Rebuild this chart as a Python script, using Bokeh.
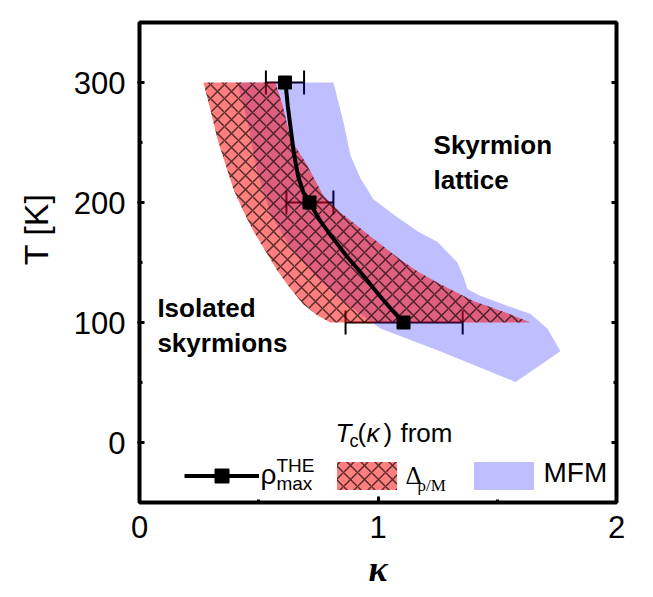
from bokeh.plotting import figure
from bokeh.models import (Range1d, FixedTicker, LinearAxis, Label, Whisker, TeeHead,
                          ColumnDataSource, Legend, LegendItem)
from bokeh.embed import file_html
from bokeh.resources import INLINE

# ---------------- data ----------------
rho_T = [300, 200, 100]
rho_kappa = [0.61, 0.713, 1.107]
rho_err_lo = [0.53, 0.616, 0.864]
rho_err_hi = [0.69, 0.813, 1.355]

curve_kappa = [0.612, 0.622, 0.635, 0.648, 0.665, 0.688, 0.713, 0.76, 0.80, 0.87, 0.935, 1.00, 1.06, 1.107]
curve_T = [300, 280, 260, 240, 222, 208, 200, 184, 173, 155, 140, 124, 110, 100]

delta_kappa = [0.268, 0.30, 0.327, 0.36, 0.394, 0.435, 0.478, 0.53, 0.579, 0.63, 0.688, 0.745, 0.80,
               1.64, 1.54, 1.40, 1.26, 1.17, 1.09, 0.98, 0.84, 0.77, 0.70, 0.65, 0.633, 0.60, 0.57]
delta_T = [300, 275, 253, 232, 211, 193, 176, 159, 143, 129, 115, 106, 100,
           100, 108, 118, 132, 142, 153, 170, 192, 206, 232, 248, 254, 281, 300]

mfm_kappa = [0.41, 0.453, 0.494, 0.55, 0.633, 0.746, 0.872, 1.01, 1.26, 1.577,
             1.765, 1.71, 1.64, 1.43, 1.375, 1.36, 1.333, 1.25, 1.166, 1.065, 0.98, 0.927, 0.885, 0.855, 0.813]
mfm_T = [300, 267, 225, 190, 162, 137, 115, 95, 76, 50.5,
         76, 95, 107, 122, 128, 137, 150, 167, 176, 190, 203, 220, 239, 267, 300]

x_ticks = [0, 1, 2]
x_minor = [0.5, 1.5]
y_ticks = [0, 100, 200, 300]
y_minor = [-50, 50, 150, 250]

SANS = "Liberation Sans"
SERIF = "Liberation Serif"

p = figure(width=648, height=593, x_range=Range1d(0, 2), y_range=Range1d(-50, 350),
           output_backend="svg", toolbar_location=None,
           min_border_left=139, min_border_right=32, min_border_top=22, min_border_bottom=91)
p.grid.visible = False
p.outline_line_color = "black"
p.outline_line_width = 4
p.outline_line_alpha = 1.0
p.background_fill_color = "white"

# axes
xa = p.xaxis[0]
xa.ticker = FixedTicker(ticks=x_ticks, minor_ticks=x_minor)
ya = p.yaxis[0]
ya.ticker = FixedTicker(ticks=y_ticks, minor_ticks=y_minor)
for ax in (xa, ya):
    ax.axis_line_color = None
    ax.major_tick_line_color = "black"
    ax.major_tick_line_width = 3
    ax.minor_tick_line_color = "black"
    ax.minor_tick_line_width = 3
    ax.major_label_text_font = SANS
    ax.major_label_text_font_size = "31px"
    ax.major_label_text_color = "black"
xa.major_tick_in = 6
xa.major_tick_out = 0
xa.minor_tick_in = 3
xa.minor_tick_out = 0
xa.major_label_standoff = 13
xa.axis_label = "κ"
xa.axis_label_text_font = SERIF
xa.axis_label_text_font_size = "36px"
xa.axis_label_text_font_style = "bold italic"
xa.axis_label_text_color = "black"
xa.axis_label_standoff = 8

ya.major_tick_in = 5
ya.major_tick_out = 2
ya.minor_tick_in = 3
ya.minor_tick_out = 0
ya.major_label_standoff = 12
# leading no-break spaces shift the centred label upward, as in the reference
ya.axis_label = "\u00a0" * 7 + "T [K]"
ya.axis_label_text_font = SANS
ya.axis_label_text_font_size = "34px"
ya.axis_label_text_font_style = "normal"
ya.axis_label_text_color = "black"
ya.axis_label_standoff = 16

ra = LinearAxis(ticker=FixedTicker(ticks=y_ticks, minor_ticks=y_minor))
ra.axis_line_color = None
ra.major_tick_line_width = 3
ra.minor_tick_line_width = 3
ra.major_tick_in = 5
ra.major_tick_out = 0
ra.minor_tick_in = 3
ra.minor_tick_out = 0
ra.major_label_text_font_size = "0px"
ra.major_label_text_color = None
p.add_layout(ra, "right")

# regions
blue_r = p.patch(mfm_kappa, mfm_T, fill_color="#0000FF", fill_alpha=0.25, line_color=None)
red_r = p.patch(delta_kappa, delta_T, fill_color="#FF0000", fill_alpha=0.5, line_color=None,
                hatch_pattern="diagonal_cross", hatch_color="black", hatch_alpha=0.65,
                hatch_weight=1.5, hatch_scale=14)

# rho_max curve + markers + error bars
line_r = p.line(curve_kappa, curve_T, line_width=4, line_color="black")
src = ColumnDataSource(dict(T=rho_T, lo=rho_err_lo, hi=rho_err_hi))
wh = Whisker(base="T", lower="lo", upper="hi", dimension="width", source=src,
             line_width=2, line_color="black",
             upper_head=TeeHead(size=24, line_width=2, line_color="black"),
             lower_head=TeeHead(size=24, line_width=2, line_color="black"))
p.add_layout(wh)
mark_r = p.scatter(rho_kappa, rho_T, marker="square", size=13, fill_color="black", line_color="black")

# legend swatches (one small legend per entry)
def legend_key(renderers, loc):
    lg = Legend(items=[LegendItem(label=" ", renderers=renderers)],
                orientation="horizontal", location=loc,
                glyph_width=75, glyph_height=35, label_width=0, label_standoff=0,
                label_height=35, label_text_font_size="1px", spacing=0,
                padding=0, margin=0, border_line_color=None, background_fill_alpha=0)
    p.add_layout(lg, "center")

legend_key([line_r, mark_r], (45, 9))
legend_key([red_r], (190, 9))
legend_key([blue_r], (327, 9))

PX_PER_T = 1.207  # vertical pixels per unit of T (only used to nudge text baselines)

def lab(x, y, text, size, font=SANS, style="normal"):
    dy = 0.38 * size / PX_PER_T
    p.add_layout(Label(x=x, y=y + dy, text=text, text_font=font, text_font_size=f"{size}px",
                       text_font_style=style, text_align="left", text_baseline="alphabetic",
                       text_color="black"))

# region annotations
lab(1.233, 239.4, "Skyrmion", 26, style="bold")
lab(1.233, 210.4, "lattice", 26, style="bold")
lab(0.075, 103.6, "Isolated", 26, style="bold")
lab(0.075, 74.6, "skyrmions", 26, style="bold")

# legend title
lab(0.822, 0, "T", 26, style="italic")
lab(0.88, -4.1, "c", 18)
lab(0.914, 0, "(", 26)
lab(0.952, 0, "κ", 26, style="italic")
lab(1.023, 0, ")", 26)
lab(1.094, 0, "from", 26)

# legend texts
lab(0.507, -35.6, "ρ", 28)
lab(0.574, -24.9, "THE", 19)
lab(0.574, -39.8, "max", 19)
lab(1.115, -35.6, "Δ", 25, font=SERIF)
lab(1.166, -41.4, "ρ/M", 17, font=SERIF)
lab(1.694, -34, "MFM", 28)

open("out.html", "w").write(file_html(p, INLINE))
